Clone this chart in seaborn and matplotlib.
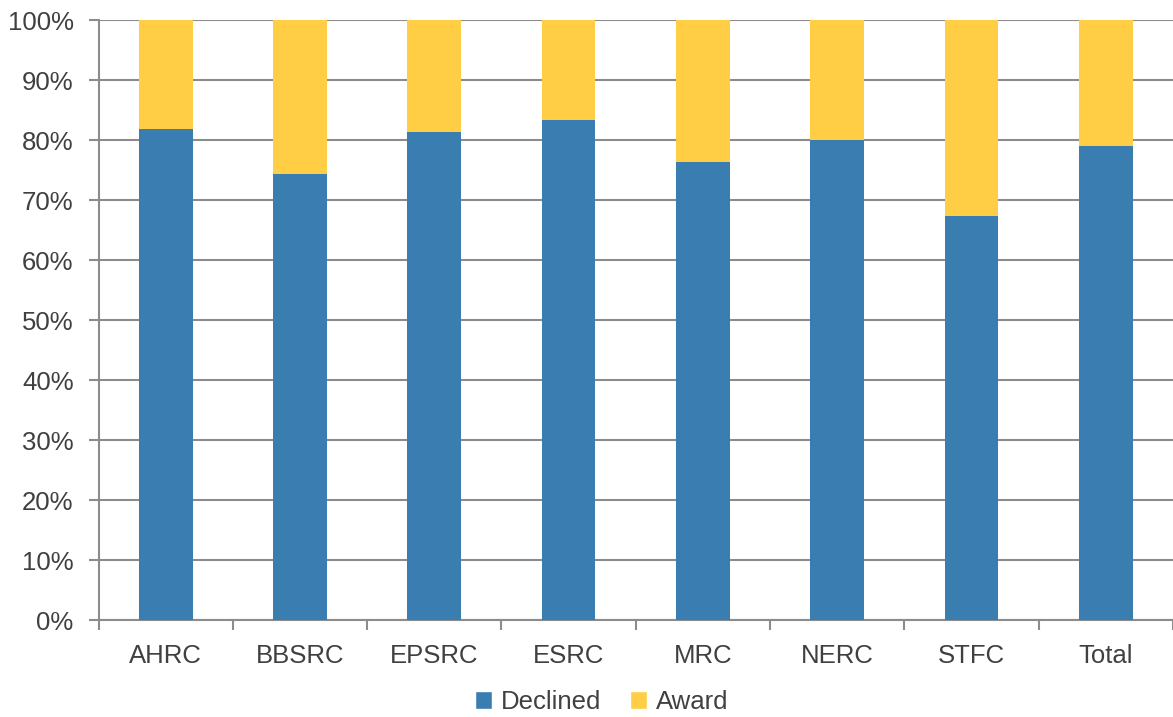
import matplotlib
matplotlib.use("Agg")
import matplotlib.pyplot as plt
import seaborn as sns
import pandas as pd
import numpy as np
from matplotlib.patches import Patch
from matplotlib.ticker import FixedLocator, PercentFormatter

categories = ["AHRC", "BBSRC", "EPSRC", "ESRC", "MRC", "NERC", "STFC", "Total"]
declined = [81.9, 74.3, 81.3, 83.4, 76.3, 80.0, 67.4, 79.1]
award = [18.1, 25.7, 18.7, 16.6, 23.7, 20.0, 32.6, 20.9]
series_names = ["Declined", "Award"]

blue = "#3A7DB1"
yellow = "#FFCE45"
grid_grey = "#8C8C8C"
text_grey = "#404040"

sns.set_theme(style="white")
plt.rcParams["font.family"] = ["Liberation Sans", "DejaVu Sans"]

df = pd.DataFrame({"cat": categories, "declined": declined, "award": award})
df["top"] = df["declined"] + df["award"]

fig = plt.figure(figsize=(11.73, 7.17), dpi=100)
ax = fig.add_axes([0.084, 0.135, 0.916, 0.837])

sns.barplot(data=df, x="cat", y="top", color=yellow, width=0.4, saturation=1,
            ax=ax, zorder=3, linewidth=0)
sns.barplot(data=df, x="cat", y="declined", color=blue, width=0.4, saturation=1,
            ax=ax, zorder=4, linewidth=0)

ax.set_ylim(0, 100)
ax.set_xlim(-0.5, len(categories) - 0.5)
ax.set_yticks(np.arange(0, 101, 10))
ax.yaxis.set_major_formatter(PercentFormatter(decimals=0))
ax.set_xlabel("")
ax.set_ylabel("")

ax.grid(axis="y", color=grid_grey, linewidth=1.5, zorder=0)
ax.set_axisbelow(True)
for s in ["top", "right"]:
    ax.spines[s].set_visible(False)
for s in ["left", "bottom"]:
    ax.spines[s].set_color(grid_grey)
    ax.spines[s].set_linewidth(1.5)

ax.tick_params(axis="y", which="major", direction="out", length=7, width=1.5,
               color=grid_grey, left=True, pad=11, labelsize=18.5, labelcolor=text_grey)
ax.tick_params(axis="x", which="major", length=0, pad=17, labelsize=18.5,
               labelcolor=text_grey)
ax.xaxis.set_minor_locator(FixedLocator(np.arange(-0.5, len(categories), 1.0)))
ax.tick_params(axis="x", which="minor", direction="out", length=7, width=1.5,
               color=grid_grey, bottom=True)

handles = [Patch(facecolor=blue, label=series_names[0]),
           Patch(facecolor=yellow, label=series_names[1])]
fig.legend(handles=handles, loc="lower center", ncol=2, frameon=False,
           bbox_to_anchor=(0.513, -0.028), fontsize=18.5, handlelength=0.65,
           handleheight=0.65, handletextpad=0.35, columnspacing=1.1,
           labelcolor=text_grey)

fig.savefig("out.png", dpi=100)
